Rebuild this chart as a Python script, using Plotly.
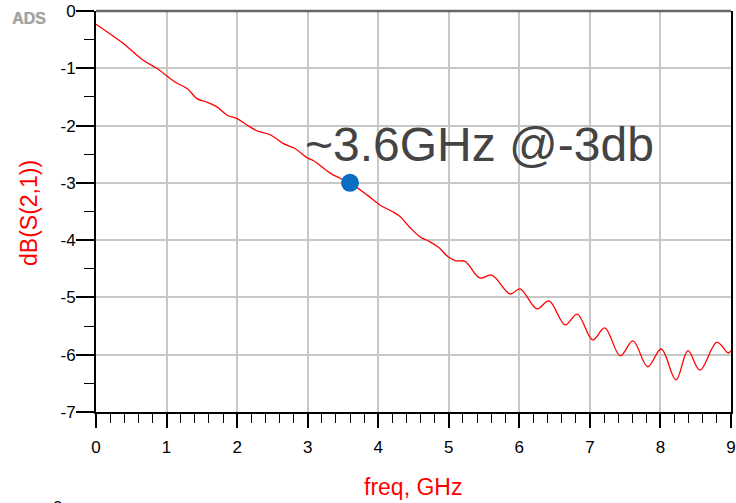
import plotly.graph_objects as go

# Measured insertion loss of the channel
freq_ghz = [0.0, 0.2, 0.38, 0.67, 0.86, 1.12, 1.3, 1.43, 1.57, 1.71, 1.86, 2.0, 2.14,
            2.28, 2.47, 2.65, 2.82, 2.99, 3.08, 3.32, 3.46, 3.6, 3.84, 4.03, 4.2,
            4.3, 4.45, 4.6, 4.72, 4.85, 4.99, 5.1, 5.23, 5.44, 5.61, 5.87, 6.01,
            6.25, 6.42, 6.65, 6.82, 7.04, 7.21, 7.43, 7.61, 7.82, 8.01, 8.22, 8.39,
            8.56, 8.8, 8.96, 9.0]
s21_db = [-0.23, -0.40, -0.56, -0.86, -1.0, -1.24, -1.36, -1.53, -1.59, -1.67, -1.82,
          -1.88, -1.99, -2.09, -2.16, -2.31, -2.40, -2.56, -2.61, -2.83, -2.92, -3.0,
          -3.21, -3.39, -3.50, -3.58, -3.78, -3.95, -4.02, -4.12, -4.29, -4.36, -4.37,
          -4.66, -4.61, -4.94, -4.85, -5.20, -5.06, -5.48, -5.29, -5.74, -5.53, -6.02,
          -5.76, -6.21, -5.90, -6.44, -5.93, -6.27, -5.78, -5.97, -5.93]

# -3 dB point
marker_freq = [3.6]
marker_db = [-3.0]
marker_label = "~3.6GHz @-3db"

x_ticks = [0, 1, 2, 3, 4, 5, 6, 7, 8, 9]
y_ticks = [0, -1, -2, -3, -4, -5, -6, -7]

FONT = "Liberation Sans, Arial, sans-serif"

# Plot-area geometry in pixels
W, H = 736, 503
L, R, T, B = 96, 5, 11, 91
PW, PH = W - L - R, H - T - B


def px(x):
    return (x - L) / PW


def py(y):
    return (H - B - y) / PH


fig = go.Figure()
fig.add_trace(go.Scatter(
    x=freq_ghz, y=s21_db, mode="lines",
    line=dict(color="#ff0000", width=1.3, shape="spline", smoothing=1.0),
    hoverinfo="x+y", showlegend=False,
))
fig.add_trace(go.Scatter(
    x=marker_freq, y=marker_db, mode="markers",
    marker=dict(color="#0a6fc2", size=18, line=dict(width=0)),
    showlegend=False,
))

fig.update_layout(
    width=W, height=H,
    margin=dict(l=L, r=R, t=T, b=B),
    paper_bgcolor="white", plot_bgcolor="white",
    font=dict(family=FONT, color="black"),
    xaxis=dict(
        range=[0, 9], tickvals=x_ticks, ticktext=[str(v) for v in x_ticks],
        automargin=False,
        showgrid=True, gridcolor="#c8c8c8", gridwidth=1.5,
        showline=True, linecolor="black", linewidth=1.5,
        ticks="outside", ticklen=14, tickwidth=1.5, tickcolor="black",
        minor=dict(dtick=0.2, ticks="outside", ticklen=9, tickwidth=1.3,
                   tickcolor="black", showgrid=False),
        tickfont=dict(size=17, color="black", family=FONT),
        ticklabelstandoff=5,
        zeroline=False,
    ),
    yaxis=dict(
        range=[-7, 0], tickvals=y_ticks, ticktext=[str(v) for v in y_ticks],
        automargin=False,
        showgrid=True, gridcolor="#c8c8c8", gridwidth=1.5,
        showline=True, linecolor="black", linewidth=2, mirror=True,
        ticks="outside", ticklen=18, tickwidth=1.5, tickcolor="black",
        minor=dict(dtick=0.5, ticks="outside", ticklen=10, tickwidth=1.3,
                   tickcolor="black", showgrid=False),
        tickfont=dict(size=17, color="black", family=FONT),
        ticklabelstandoff=-3,
        zeroline=False,
    ),
    shapes=[
        dict(type="line", xref="paper", yref="paper", x0=0, x1=1, y0=1, y1=1,
             line=dict(color="#666666", width=2.5)),
    ],
)

annotations = [
    # -3 dB callout
    dict(x=marker_freq[0], y=marker_db[0], xref="x", yref="y",
         text=marker_label, showarrow=False, xanchor="left", yanchor="bottom",
         xshift=-47, yshift=10,
         font=dict(size=48, color="#444444", family=FONT)),
    # axis titles
    dict(x=px(413), y=py(487), xref="paper", yref="paper", text="freq, GHz",
         showarrow=False, xanchor="center", yanchor="middle",
         font=dict(size=23, color="#ff0000", family=FONT)),
    dict(x=px(29), y=py(213), xref="paper", yref="paper", text="dB(S(2,1))",
         showarrow=False, xanchor="center", yanchor="middle", textangle=-90,
         font=dict(size=23, color="#ff0000", family=FONT)),
    # logo with soft shadow
    dict(x=px(30), y=py(19), xref="paper", yref="paper", text="<b>ADS</b>",
         showarrow=False, xanchor="center", yanchor="middle",
         font=dict(size=16, color="#d6d6d6", family=FONT)),
    dict(x=px(29), y=py(18), xref="paper", yref="paper", text="<b>ADS</b>",
         showarrow=False, xanchor="center", yanchor="middle",
         font=dict(size=16, color="#a0a0a0", family=FONT)),
    # page marker at the lower edge
    dict(x=px(57), y=py(496), xref="paper", yref="paper", text="0",
         showarrow=False, xanchor="center", yanchor="top",
         font=dict(size=17, color="black", family=FONT)),
]
fig.update_layout(annotations=annotations)

fig.write_html("out.html")
